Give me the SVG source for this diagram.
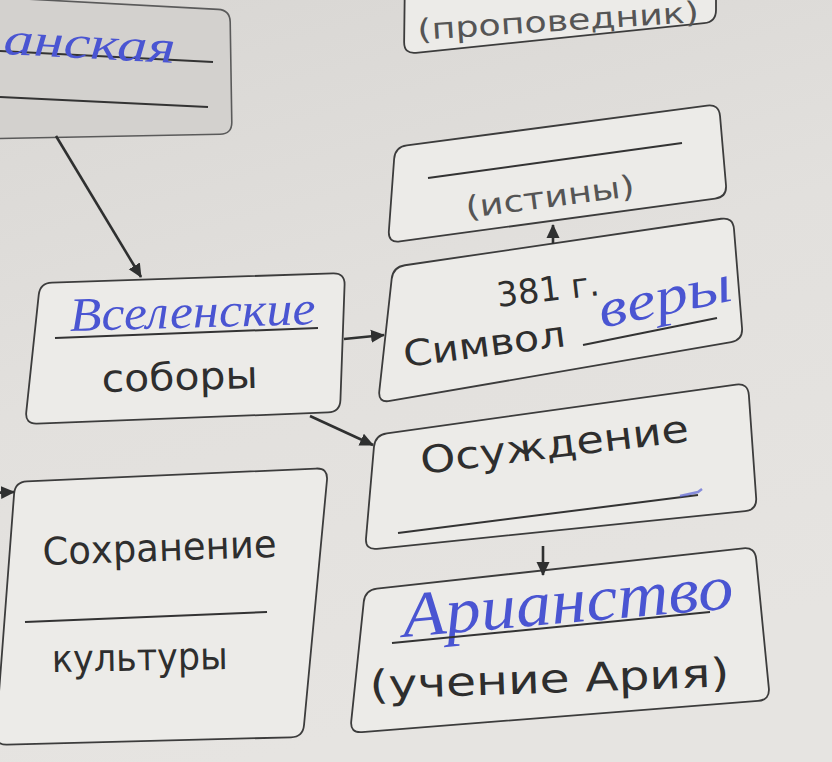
<svg xmlns="http://www.w3.org/2000/svg" width="832" height="762" viewBox="0 0 832 762">
<defs>
<linearGradient id="paper" x1="0" y1="0" x2="0.3" y2="1">
<stop offset="0" stop-color="#d8d6d3"/>
<stop offset="0.5" stop-color="#e2e0dd"/>
<stop offset="1" stop-color="#e6e4e1"/>
</linearGradient>
<marker id="arr" markerUnits="userSpaceOnUse" markerWidth="15" markerHeight="15" refX="13" refY="7.5" orient="auto">
<path d="M0,1 L14,7.5 L0,14 Z" fill="#2f3030"/>
</marker>
<style>
.box{fill:#ecebe8;stroke:#3c3c3c;stroke-width:1.8}
.boxdark{fill:#d3d1ce;stroke:#5a5a5a;stroke-width:1.6}
.rule{stroke:#333;stroke-width:2;fill:none}
.t{font-family:"DejaVu Sans","Noto Sans",sans-serif;fill:#2e2e2e}
.tl{font-family:"DejaVu Sans","Noto Sans",sans-serif;fill:#555}
.hw{font-family:"Liberation Serif","DejaVu Serif",serif;font-style:italic;fill:#4a55d2}
.conn{stroke:#2f3030;stroke-width:2.6;fill:none;marker-end:url(#arr)}
</style>
</defs>
<rect x="0" y="0" width="832" height="762" fill="url(#paper)"/>

<g id="node-top-left">
<path class="boxdark" d="M -18,-3.35 L 218,9.35 Q 230,10 230.2,22 L 231.8,122 Q 232,134 220,134.2 L -18,138.8 Q -30,139 -30,127 L -30,8 Q -30,-4 -18,-3.35 Z"/>
<line class="rule" x1="0" y1="51" x2="213" y2="62"/>
<line class="rule" x1="0" y1="97" x2="208" y2="107"/>
<text class="hw" x="3" y="54" font-size="46" textLength="172" lengthAdjust="spacingAndGlyphs" transform="rotate(3 3 54)">анская</text>
</g>

<g id="node-propovednik">
<path class="box" d="M 417,-30.77 L 704,-49.23 Q 716,-50 716,-38 L 716,10 Q 716,22 704.06,23.22 L 415.94,52.78 Q 404,54 404.14,42 L 404.86,-18 Q 405,-30 417,-30.77 Z"/>
<text class="tl" x="418" y="40" font-size="29" textLength="282" lengthAdjust="spacingAndGlyphs" transform="rotate(-3.7 418 40)">(проповедник)</text>
</g>

<g id="node-istiny">
<path class="box" d="M 406.9,145.42 L 707.1,105.58 Q 719,104 720.03,115.96 L 725.97,185.04 Q 727,197 715.11,198.61 L 399.89,241.39 Q 388,243 388.87,231.03 L 394.13,158.97 Q 395,147 406.9,145.42 Z"/>
<line class="rule" x1="428" y1="178" x2="682" y2="143"/>
<text class="tl" x="467" y="218" font-size="30" textLength="170" lengthAdjust="spacingAndGlyphs" transform="rotate(-7.5 467 218)">(истины)</text>
</g>

<g id="node-symbol">
<path class="box" d="M 404.87,265.25 L 721.13,218.75 Q 733,217 733.97,228.96 L 742.03,328.04 Q 743,340 731.17,342.04 L 389.83,400.96 Q 378,403 379.32,391.07 L 391.68,278.93 Q 393,267 404.87,265.25 Z"/>
<text class="t" x="498" y="307" font-size="34" textLength="103" lengthAdjust="spacingAndGlyphs" transform="rotate(-6.7 498 307)">381 г.</text>
<text class="t" x="405" y="367" font-size="36" textLength="163" lengthAdjust="spacingAndGlyphs" transform="rotate(-7.4 405 367)">Символ</text>
<line class="rule" x1="583" y1="345" x2="717" y2="318"/>
<text class="hw" x="602" y="328" font-size="54" textLength="135" lengthAdjust="spacingAndGlyphs" transform="rotate(-12 602 328)">веры</text>
</g>

<g id="node-vselenskie">
<path class="box" d="M 51.99,282.61 L 333.01,273.39 Q 345,273 344.57,284.99 L 340.43,400.01 Q 340,412 328.01,412.46 L 36.99,423.54 Q 25,424 26.27,412.07 L 38.73,294.93 Q 40,283 51.99,282.61 Z"/>
<line class="rule" x1="55" y1="338" x2="318" y2="328"/>
<text class="hw" x="70" y="331" font-size="48" textLength="246" lengthAdjust="spacingAndGlyphs" transform="rotate(-1.6 70 331)">Вселенские</text>
<text class="t" x="102" y="392" font-size="38" textLength="156" lengthAdjust="spacingAndGlyphs" transform="rotate(-1.5 102 392)">соборы</text>
</g>

<g id="node-osuzhdenie">
<path class="box" d="M 386.89,433.34 L 736.11,384.66 Q 748,383 748.85,394.97 L 756.15,498.03 Q 757,510 745.06,511.22 L 376.94,548.78 Q 365,550 366.04,538.05 L 373.96,446.95 Q 375,435 386.89,433.34 Z"/>
<text class="t" x="422" y="474" font-size="38" textLength="270" lengthAdjust="spacingAndGlyphs" transform="rotate(-7 422 474)">Осуждение</text>
<line class="rule" x1="398" y1="533" x2="698" y2="495"/>
<path d="M 680,496 L 698,492 L 702,489" stroke="#5a63d6" stroke-width="2.5" fill="none" opacity="0.7"/>
</g>

<g id="node-arianstvo">
<path class="box" d="M 376.93,588.68 L 743.07,548.32 Q 755,547 756.17,558.94 L 768.83,688.06 Q 770,700 758.04,700.94 L 361.96,732.06 Q 350,733 351.25,721.07 L 363.75,601.93 Q 365,590 376.93,588.68 Z"/>
<text class="hw" x="404" y="637" font-size="64" textLength="332" lengthAdjust="spacingAndGlyphs" transform="rotate(-5 404 637)">Арианство</text>
<line class="rule" x1="392" y1="643" x2="710" y2="612"/>
<text class="t" x="370" y="699" font-size="40" textLength="360" lengthAdjust="spacingAndGlyphs" transform="rotate(-2 370 699)">(учение Ария)</text>
</g>

<g id="node-sokhranenie">
<path class="box" d="M 26.99,481.46 L 316.01,468.54 Q 328,468 326.98,479.96 L 304.02,725.04 Q 303,737 291,737.31 L 7,744.69 Q -5,745 -4.09,733.03 L 14.09,493.97 Q 15,482 26.99,481.46 Z"/>
<text class="t" x="43" y="565" font-size="38" textLength="234" lengthAdjust="spacingAndGlyphs" transform="rotate(-2 43 565)">Сохранение</text>
<line class="rule" x1="25" y1="622" x2="267" y2="612"/>
<text class="t" x="52" y="672" font-size="38" textLength="176" lengthAdjust="spacingAndGlyphs" transform="rotate(-1 52 672)">культуры</text>
</g>

<g id="connectors">
<line class="conn" x1="56" y1="136" x2="141" y2="277"/>
<line class="conn" x1="344" y1="339" x2="384" y2="335"/>
<line class="conn" x1="310" y1="416" x2="373" y2="445"/>
<line class="conn" x1="553" y1="244" x2="553" y2="225"/>
<line class="conn" x1="543" y1="546" x2="543" y2="575"/>
<line class="conn" x1="-10" y1="493" x2="14" y2="492"/>
</g>
</svg>
